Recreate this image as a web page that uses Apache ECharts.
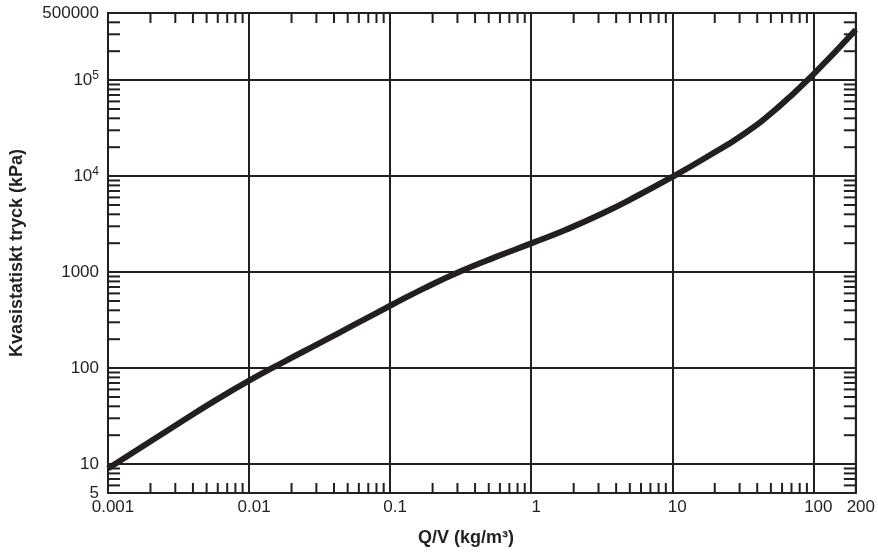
<!DOCTYPE html>
<html style="height: 100%">
<head>
    <meta charset="utf-8">
</head>
<body style="height: 100%; margin: 0; background: #fff">
    <div id="container" style="width: 878px; height: 557px"></div>
    <script src="https://cdn.jsdelivr.net/npm/echarts@6/dist/echarts.min.js"></script>
    <script type="text/javascript">
        // Q/V (kg/m3) and quasi-static pressure (kPa)
        var qv = [0.001, 0.00316, 0.00562, 0.01, 0.0178, 0.0316, 0.0562,
            0.1, 0.178, 0.316, 0.562, 1, 1.78, 3.16, 5.62,
            10, 17.8, 31.6, 56.2, 100, 200];
        var pressure = [9, 26.5, 45, 74, 117, 182, 285,
            446, 690, 1020, 1440, 1990, 2780, 4050, 6200,
            9800, 16000, 27000, 52000, 115000, 335000];

        // minor tick positions (inside the frame)
        var xMinor = [];
        var yMinor = [];
        [0.001, 0.01, 0.1, 1, 10].forEach(function (d) {
            for (var k = 2; k <= 9; k++) xMinor.push(+(k * d).toPrecision(3));
        });
        [6, 7, 8, 9].forEach(function (k) { yMinor.push(k); });
        [10, 100, 1000, 10000].forEach(function (d) {
            for (var k = 2; k <= 9; k++) yMinor.push(k * d);
        });
        [200000, 300000, 400000].forEach(function (v) { yMinor.push(v); });

        var xMin = 0.001, xMax = 200, yMin = 5, yMax = 500000;
        var ink = '#231f20';
        var font = 'Liberation Sans, Arial';

        var chart = echarts.init(document.getElementById('container'));

        function fmt(v) {
            return String(Number(v.toPrecision(3)));
        }

        var option = {
            animation: false,
            grid: {
                left: 108, right: 20, top: 13, bottom: 64,
                show: true, borderColor: ink, borderWidth: 2
            },
            xAxis: {
                type: 'log',
                min: xMin,
                max: xMax,
                name: 'Q/V (kg/m³)',
                nameLocation: 'middle',
                nameGap: 36,
                nameTextStyle: {
                    fontFamily: font, fontWeight: 'bold',
                    fontSize: 18, color: ink, padding: [0, 32, 0, 0]
                },
                axisLine: { lineStyle: { color: ink, width: 2 } },
                axisTick: { show: false },
                axisLabel: {
                    formatter: fmt,
                    fontFamily: font,
                    fontSize: 17, color: ink, margin: 6,
                    padding: [0, 0, 0, 10]
                },
                splitLine: { show: true, lineStyle: { color: ink, width: 2 } }
            },
            yAxis: {
                type: 'log',
                min: yMin,
                max: yMax,
                name: 'Kvasistatiskt tryck (kPa)',
                nameLocation: 'middle',
                nameGap: 82,
                nameTextStyle: {
                    fontFamily: font, fontWeight: 'bold',
                    fontSize: 18, color: ink
                },
                axisLine: { lineStyle: { color: ink, width: 2 } },
                axisTick: { show: false },
                axisLabel: {
                    margin: 9,
                    formatter: function (v) {
                        var n = Number(v.toPrecision(3));
                        if (n === 10000) return '{b|10}{s|4}';
                        if (n === 100000) return '{b|10}{s|5}';
                        return '{b|' + n + '}';
                    },
                    rich: {
                        b: { fontFamily: font, fontSize: 17, color: ink },
                        s: {
                            fontFamily: font, fontSize: 12, color: ink,
                            padding: [0, 0, 9, 0]
                        }
                    }
                },
                splitLine: { show: true, lineStyle: { color: ink, width: 2 } }
            },
            series: [
                {
                    type: 'custom',
                    silent: true,
                    data: xMinor.map(function (v) { return [v]; }),
                    renderItem: function (params, api) {
                        var b = api.coord([api.value(0), yMin]);
                        var t = api.coord([api.value(0), yMax]);
                        var st = { stroke: ink, lineWidth: 2 };
                        return {
                            type: 'group',
                            children: [
                                { type: 'line', shape: { x1: b[0], y1: b[1], x2: b[0], y2: b[1] - 10 }, style: st },
                                { type: 'line', shape: { x1: t[0], y1: t[1], x2: t[0], y2: t[1] + 10 }, style: st }
                            ]
                        };
                    }
                },
                {
                    type: 'custom',
                    silent: true,
                    data: yMinor.map(function (v) { return [xMin, v]; }),
                    renderItem: function (params, api) {
                        var l = api.coord([xMin, api.value(1)]);
                        var r = api.coord([xMax, api.value(1)]);
                        var st = { stroke: ink, lineWidth: 2 };
                        return {
                            type: 'group',
                            children: [
                                { type: 'line', shape: { x1: l[0], y1: l[1], x2: l[0] + 12, y2: l[1] }, style: st },
                                { type: 'line', shape: { x1: r[0], y1: r[1], x2: r[0] - 12, y2: r[1] }, style: st }
                            ]
                        };
                    }
                },
                {
                    type: 'line',
                    smooth: 0.5,
                    symbol: 'none',
                    lineStyle: { color: ink, width: 6 },
                    data: qv.map(function (x, i) { return [x, pressure[i]]; }),
                    z: 5
                }
            ]
        };

        chart.setOption(option);
    </script>
</body>
</html>
